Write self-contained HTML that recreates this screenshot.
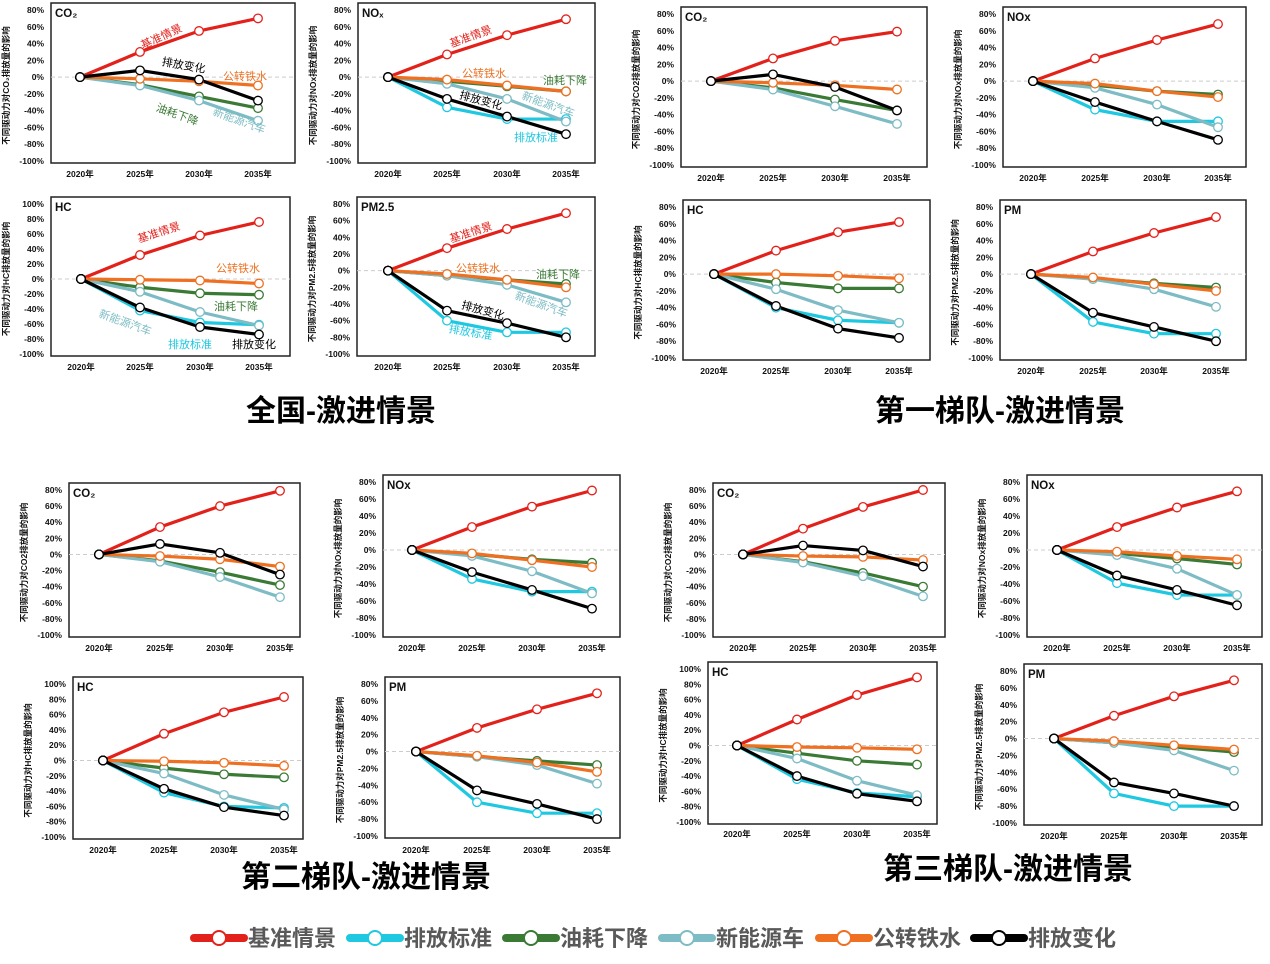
<!DOCTYPE html>
<html><head><meta charset="utf-8"><style>
body{margin:0;background:#fff;width:1270px;height:964px;overflow:hidden}
svg{display:block}
text{font-family:"Liberation Sans","Noto Sans CJK SC",sans-serif}
</style></head><body>
<svg id="s" width="1270" height="964" xmlns="http://www.w3.org/2000/svg"></svg>
<script>
const C={r:'#e3211b',c:'#1ec8e0',g:'#3a7a35',l:'#7dbcc4',o:'#ee7020',k:'#000'};
const order=['r','c','g','l','o','k'];
const charts=[
 {n:'CO₂',L:51,R:295,yt:10,yb:161,top:80,xs:[80,140,199,258],ly:174,d:{r:[0,30,55,70],g:[0,-9,-23,-37],l:[0,-10,-28,-52],o:[0,-2,-5,-10],k:[0,8,-3,-28]},yt0:'不同驱动力对CO₂排放量的影响',
  ann:[['基准情景','r',163,40,-25],['排放变化','k',183,69,10],['公转铁水','o',245,80,0],['油耗下降','g',176,118,20],['新能源汽车','l',238,124,20]]},
 {n:'NOₓ',L:358,R:595,yt:10,yb:161,top:80,xs:[388,447,507,566],ly:174,d:{r:[0,27,50,69],c:[0,-36,-50,-50],g:[0,-5,-11,-17],l:[0,-8,-26,-53],o:[0,-3,-10,-17],k:[0,-26,-47,-68]},yt0:'不同驱动力对NOx排放量的影响',
  ann:[['基准情景','r',472,40,-20],['公转铁水','o',484,77,0],['油耗下降','g',565,84,0],['新能源汽车','l',547,108,20],['排放变化','k',480,104,15],['排放标准','c',536,141,0]]},
 {n:'HC',L:51,R:290,yt:204,yb:354,top:100,xs:[81,140,200,259],ly:367,d:{r:[0,32,58,76],c:[0,-42,-58,-61],g:[0,-11,-19,-21],l:[0,-17,-44,-62],o:[0,-1,-2,-6],k:[0,-38,-64,-74]},yt0:'不同驱动力对HC排放量的影响',
  ann:[['基准情景','r',160,236,-18],['公转铁水','o',238,272,0],['油耗下降','g',236,310,0],['新能源汽车','l',124,326,20],['排放标准','c',190,348,0],['排放变化','k',254,348,0]]},
 {n:'PM2.5',L:357,R:595,yt:204,yb:354,top:80,xs:[388,447,507,566],ly:367,d:{r:[0,27,50,69],c:[0,-60,-74,-74],g:[0,-6,-11,-16],l:[0,-6,-17,-38],o:[0,-4,-11,-20],k:[0,-48,-63,-80]},yt0:'不同驱动力对PM2.5排放量的影响',
  ann:[['基准情景','r',472,236,-18],['公转铁水','o',478,272,0],['油耗下降','g',558,278,0],['新能源汽车','l',540,308,20],['排放变化','k',482,314,15],['排放标准','c',470,336,10]]},
 {n:'CO₂',L:681,R:927,yt:14,yb:165,top:80,xs:[711,773,835,897],ly:178,d:{r:[0,27,48,59],g:[0,-8,-22,-35],l:[0,-10,-30,-51],o:[0,-2,-5,-10],k:[0,8,-7,-35]},yt0:'不同驱动力对CO2排放量的影响'},
 {n:'NOx',L:1003,R:1246,yt:14,yb:165,top:80,xs:[1033,1095,1157,1218],ly:178,d:{r:[0,27,49,68],c:[0,-34,-48,-48],g:[0,-5,-12,-16],l:[0,-8,-28,-55],o:[0,-3,-12,-19],k:[0,-25,-48,-70]},yt0:'不同驱动力对NOx排放量的影响'},
 {n:'HC',L:683,R:930,yt:207,yb:358,top:80,xs:[714,776,838,899],ly:371,d:{r:[0,28,50,62],c:[0,-40,-55,-58],g:[0,-10,-17,-17],l:[0,-18,-43,-58],o:[0,0,-2,-5],k:[0,-38,-65,-76]},yt0:'不同驱动力对HC排放量的影响'},
 {n:'PM',L:1000,R:1246,yt:207,yb:358,top:80,xs:[1031,1093,1154,1216],ly:371,d:{r:[0,27,49,68],c:[0,-57,-71,-71],g:[0,-5,-11,-16],l:[0,-6,-18,-39],o:[0,-4,-12,-20],k:[0,-46,-63,-80]},yt0:'不同驱动力对PM2.5排放量的影响'},
 {n:'CO₂',L:69,R:300,yt:490,yb:635,top:80,xs:[99,160,220,280],ly:648,d:{r:[0,34,60,79],g:[0,-8,-22,-38],l:[0,-9,-28,-53],o:[0,-2,-6,-15],k:[0,13,2,-25]},yt0:'不同驱动力对CO2排放量的影响'},
 {n:'NOx',L:383,R:620,yt:482,yb:635,top:80,xs:[412,472,532,592],ly:648,d:{r:[0,27,51,70],c:[0,-34,-49,-49],g:[0,-5,-11,-15],l:[0,-7,-25,-51],o:[0,-4,-12,-20],k:[0,-26,-47,-69]},yt0:'不同驱动力对NOx排放量的影响'},
 {n:'HC',L:73,R:303,yt:684,yb:837,top:100,xs:[103,164,224,284],ly:850,d:{r:[0,35,63,83],c:[0,-42,-60,-62],g:[0,-10,-18,-22],l:[0,-17,-45,-64],o:[0,-1,-3,-7],k:[0,-37,-61,-72]},yt0:'不同驱动力对HC排放量的影响'},
 {n:'PM',L:385,R:620,yt:684,yb:836,top:80,xs:[416,477,537,597],ly:850,d:{r:[0,28,50,69],c:[0,-60,-73,-73],g:[0,-6,-11,-16],l:[0,-6,-16,-38],o:[0,-5,-13,-24],k:[0,-46,-62,-80]},yt0:'不同驱动力对PM2.5排放量的影响'},
 {n:'CO₂',L:713,R:945,yt:490,yb:635,top:80,xs:[743,803,863,923],ly:648,d:{r:[0,32,59,80],g:[0,-9,-23,-40],l:[0,-10,-27,-52],o:[0,-2,-3,-7],k:[0,11,5,-15]},yt0:'不同驱动力对CO2排放量的影响'},
 {n:'NOx',L:1027,R:1262,yt:482,yb:635,top:80,xs:[1057,1117,1177,1237],ly:648,d:{r:[0,27,50,69],c:[0,-39,-53,-53],g:[0,-4,-10,-17],l:[0,-6,-22,-53],o:[0,-2,-7,-11],k:[0,-30,-47,-65]},yt0:'不同驱动力对NOx排放量的影响'},
 {n:'HC',L:708,R:937,yt:669,yb:822,top:100,xs:[737,797,857,917],ly:834,d:{r:[0,34,66,89],c:[0,-44,-62,-67],g:[0,-10,-20,-25],l:[0,-17,-46,-65],o:[0,-2,-3,-5],k:[0,-40,-63,-73]},yt0:'不同驱动力对HC排放量的影响'},
 {n:'PM',L:1024,R:1262,yt:671,yb:823,top:80,xs:[1054,1114,1174,1234],ly:836,d:{r:[0,27,50,69],c:[0,-65,-80,-80],g:[0,-5,-10,-16],l:[0,-5,-14,-38],o:[0,-3,-8,-13],k:[0,-52,-65,-80]},yt0:'不同驱动力对PM2.5排放量的影响'}
];
let h='';
for(const c of charts){
  const Y=v=>c.yt+(c.top-v)/(c.top+100)*(c.yb-c.yt);
  h+=`<rect x="${c.L}" y="${c.yt-7}" width="${c.R-c.L}" height="${c.yb-c.yt+9}" fill="none" stroke="#222" stroke-width="1.5"/>`;
  for(let v=c.top;v>=-100;v-=20)h+=`<text x="${c.L-7}" y="${Y(v)+3}" font-size="8.5" font-weight="bold" text-anchor="end" fill="#111">${v}%</text>`;
  h+=`<line x1="${c.L}" x2="${c.R}" y1="${Y(0)}" y2="${Y(0)}" stroke="#ccc" stroke-dasharray="4,3"/>`;
  c.xs.forEach((x,i)=>h+=`<text x="${x}" y="${c.ly+3}" font-size="8.5" font-weight="bold" text-anchor="middle" fill="#111">${2020+5*i}年</text>`);
  const mx=c.L-42,my=(c.yt+c.yb)/2;
  h+=`<text transform="translate(${mx},${my}) rotate(-90)" font-size="8.5" font-weight="bold" text-anchor="middle" fill="#111">${c.yt0}</text>`;
  h+=`<text x="${c.L+4}" y="${c.yt+7}" font-size="11.5" font-weight="bold" fill="#111">${c.n}</text>`;
  for(const s of order){const d=c.d[s];if(!d)continue;
    h+=`<polyline points="${d.map((v,i)=>c.xs[i]+','+Y(v)).join(' ')}" fill="none" stroke="${C[s]}" stroke-width="3.2" stroke-linejoin="round"/>`;}
  for(const s of order){const d=c.d[s];if(!d)continue;
    d.forEach((v,i)=>h+=`<circle cx="${c.xs[i]}" cy="${Y(v)}" r="4.3" fill="#fff" stroke="${i==0?'#000':C[s]}" stroke-width="1.3"/>`);}
  if(c.ann)for(const a of c.ann)h+=`<text transform="translate(${a[2]},${a[3]}) rotate(${a[4]})" font-size="11" text-anchor="middle" fill="${C[a[1]]}">${a[0]}</text>`;
}
const T=[['全国-激进情景',341,421],['第一梯队-激进情景',1000,421],['第二梯队-激进情景',366,887],['第三梯队-激进情景',1008,879]];
for(const t of T)h+=`<text x="${t[1]}" y="${t[2]}" font-size="30" font-weight="bold" text-anchor="middle" fill="#000">${t[0]}</text>`;
const lg=[['基准情景','r',190],['排放标准','c',346],['油耗下降','g',502],['新能源车','l',658],['公转铁水','o',815],['排放变化','k',970]];
for(const l of lg){h+=`<line x1="${l[2]+4}" x2="${l[2]+54}" y1="938" y2="938" stroke="${C[l[1]]}" stroke-width="8" stroke-linecap="round"/><circle cx="${l[2]+29}" cy="938" r="7" fill="#fff" stroke="${C[l[1]]}" stroke-width="2"/><text x="${l[2]+58}" y="946" font-size="22" font-weight="bold" fill="#595959">${l[0]}</text>`;}
document.getElementById('s').innerHTML=h;
</script>
</body></html>
